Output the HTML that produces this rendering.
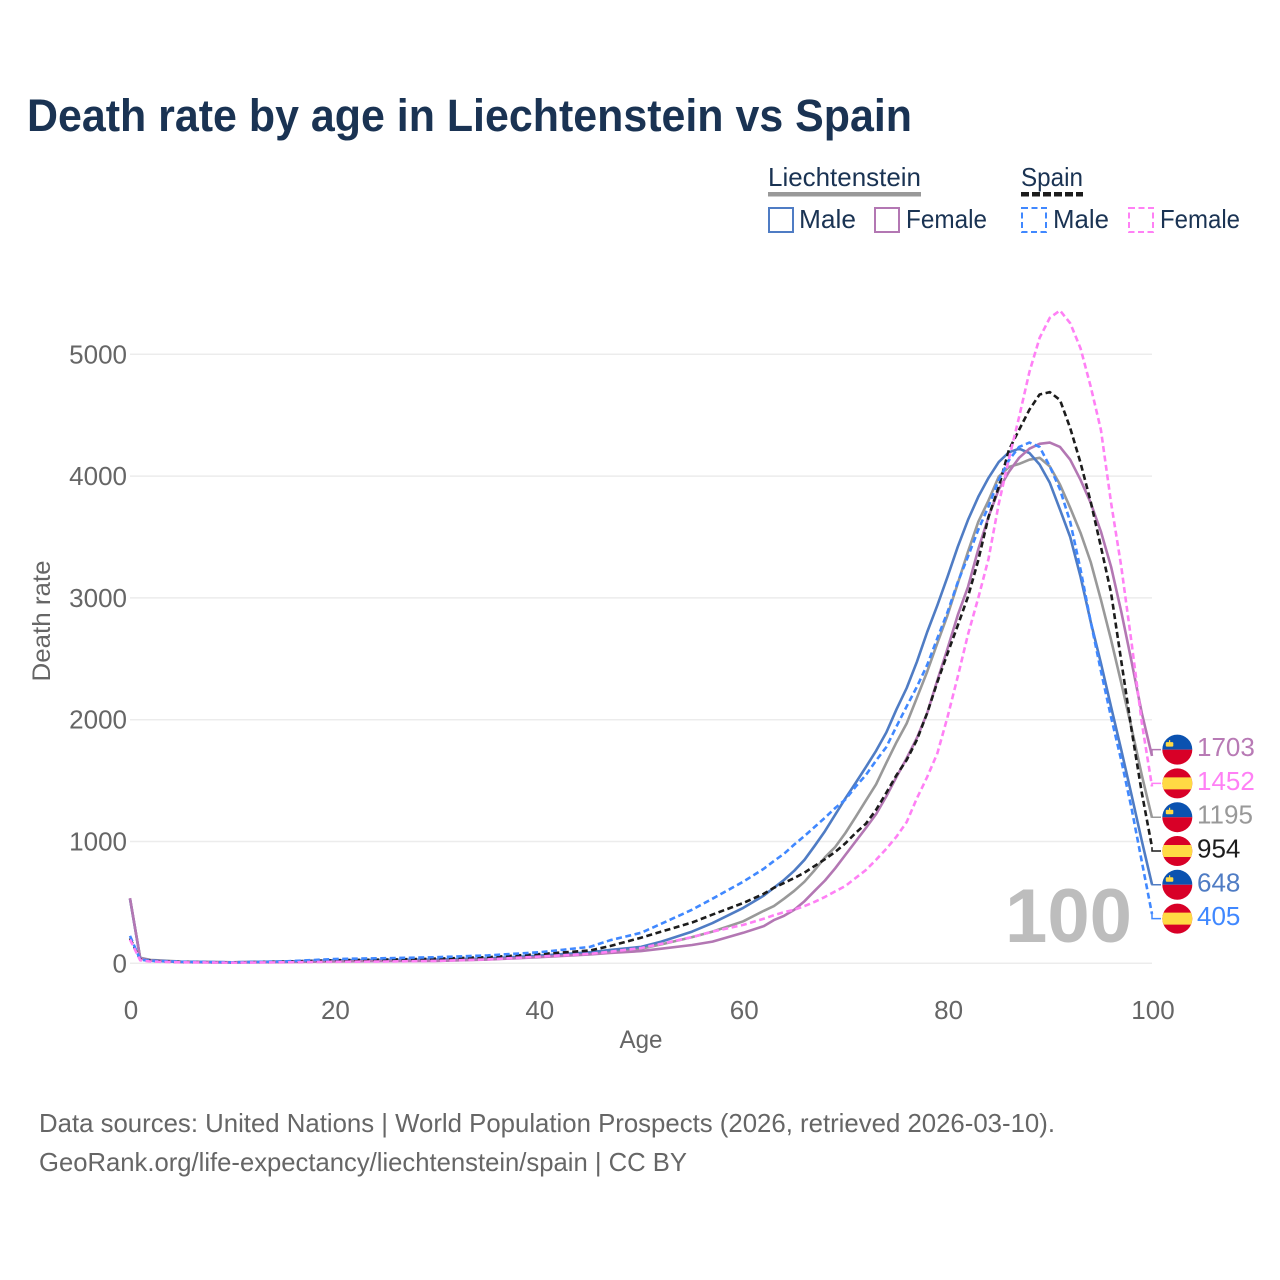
<!DOCTYPE html>
<html lang="en">
<head>
<meta charset="utf-8">
<title>Death rate by age in Liechtenstein vs Spain</title>
<style>
html,body{margin:0;padding:0;background:#fff;}
svg{display:block;font-family:"Liberation Sans",sans-serif;}
</style>
</head>
<body>
<svg id="chart" xmlns="http://www.w3.org/2000/svg" width="1280" height="1280" viewBox="0 0 1280 1280">
  <rect x="0" y="0" width="1280" height="1280" fill="#ffffff"/>
  <text x="27" y="131" font-size="45" font-weight="700" fill="#1a3353" textLength="885" lengthAdjust="spacingAndGlyphs">Death rate by age in Liechtenstein vs Spain</text>

  <g font-size="26" fill="#1a3353">
    <text x="768" y="186" textLength="153" lengthAdjust="spacingAndGlyphs">Liechtenstein</text>
    <rect x="768" y="192" width="153" height="4.5" fill="#999999"/>
    <text x="1021" y="186" textLength="62" lengthAdjust="spacingAndGlyphs">Spain</text>
    <line x1="1021" y1="194.2" x2="1083" y2="194.2" stroke="#1c1c1c" stroke-width="4.5" stroke-dasharray="8 3"/>
    <rect x="769" y="208" width="24" height="24" fill="none" stroke="#4f7cc4" stroke-width="2"/>
    <text x="799" y="228" textLength="57" lengthAdjust="spacingAndGlyphs">Male</text>
    <rect x="875" y="208" width="24" height="24" fill="none" stroke="#b377b3" stroke-width="2"/>
    <text x="906" y="228" textLength="81" lengthAdjust="spacingAndGlyphs">Female</text>
    <rect x="1022" y="208" width="24" height="24" fill="none" stroke="#4088ff" stroke-width="2" stroke-dasharray="6 3.5"/>
    <text x="1053" y="228" textLength="56" lengthAdjust="spacingAndGlyphs">Male</text>
    <rect x="1129" y="208" width="24" height="24" fill="none" stroke="#ff80f5" stroke-width="2" stroke-dasharray="6 3.5"/>
    <text x="1160" y="228" textLength="80" lengthAdjust="spacingAndGlyphs">Female</text>
  </g>

  <g id="grid"></g>
  <g id="yticks"></g>
  <g id="xticks"></g>

  <text transform="translate(50 621) rotate(-90)" text-anchor="middle" font-size="25" fill="#666666" textLength="121" lengthAdjust="spacingAndGlyphs">Death rate</text>
  <text x="641" y="1048" text-anchor="middle" font-size="25" fill="#666666" textLength="43" lengthAdjust="spacingAndGlyphs">Age</text>
  <text x="1005" y="942" font-size="76" font-weight="700" fill="#bdbdbd" textLength="127" lengthAdjust="spacingAndGlyphs">100</text>

  <g id="series"></g>
  <g id="labels"></g>

  <text x="39" y="1132" font-size="26" fill="#666666" textLength="1016" lengthAdjust="spacingAndGlyphs">Data sources: United Nations | World Population Prospects (2026, retrieved 2026-03-10).</text>
  <text x="39" y="1171" font-size="26" fill="#666666" textLength="648" lengthAdjust="spacingAndGlyphs">GeoRank.org/life-expectancy/liechtenstein/spain | CC BY</text>
</svg>
<script>
const ages = [0,1,2,5,10,15,20,25,30,35,40,45,47,50,52,55,57,60,
  62,63,64,65,66,67,68,69,70,71,72,73,74,75,76,77,78,79,80,81,82,83,84,85,86,87,88,89,90,91,92,93,94,95,96,97,98,99,100];
const liechtensteinMale = [530,40,25,12,8,15,25,28,30,40,62,90,110,135,178,260,330,455,
  555,620,685,760,850,965,1085,1220,1355,1480,1610,1745,1895,2085,2260,2475,2720,2940,3175,3420,3640,3830,3985,4115,4195,4225,4190,4095,3945,3725,3500,3175,2805,2465,2105,1750,1380,1005,648];
const liechtensteinFemale = [535,40,22,10,6,10,15,18,20,30,50,72,85,100,120,150,178,250,
  305,355,390,440,510,595,680,780,890,1000,1110,1225,1370,1530,1685,1850,2055,2325,2585,2860,3090,3400,3665,3890,4035,4150,4225,4265,4275,4240,4135,3970,3780,3545,3255,2885,2475,2055,1703];
const liechtensteinTotal = [530,45,28,14,8,15,22,25,28,38,60,88,100,120,155,215,260,345,
  430,470,530,595,670,765,870,955,1070,1200,1335,1470,1645,1815,1970,2180,2395,2630,2860,3120,3380,3625,3800,3995,4075,4100,4135,4150,4080,3930,3740,3535,3295,2985,2655,2300,1930,1545,1195];
const spainTotal = [205,30,20,10,7,12,25,30,38,50,75,105,142,210,260,335,400,495,
  570,620,660,700,745,800,855,915,985,1070,1145,1260,1400,1545,1670,1835,2055,2310,2545,2775,3010,3310,3665,3910,4215,4380,4545,4670,4690,4625,4395,4110,3790,3420,3040,2480,1915,1400,954];
const spainMale = [225,30,20,12,8,15,35,42,50,65,90,135,190,250,325,440,530,670,
  775,840,900,975,1045,1120,1195,1275,1345,1450,1545,1665,1775,1945,2110,2270,2450,2670,2885,3130,3340,3560,3750,3970,4130,4240,4275,4240,4080,3890,3625,3235,2805,2400,2020,1665,1270,835,405];
const spainFemale = [195,25,15,8,5,8,12,15,20,32,55,78,95,125,160,215,260,315,
  365,395,420,440,470,505,545,590,635,700,765,850,940,1040,1160,1355,1530,1725,2025,2355,2700,3000,3320,3770,4140,4485,4855,5135,5300,5360,5255,5050,4735,4380,3780,3255,2630,1975,1452];
const yTickValues = [0,1000,2000,3000,4000,5000];
const xTickValues = [0,20,40,60,80,100];
const seriesNames = ['liechtenstein-total','liechtenstein-male','liechtenstein-female','spain-total','spain-male','spain-female'];
const seriesValues = [liechtensteinTotal,liechtensteinMale,liechtensteinFemale,spainTotal,spainMale,spainFemale];

const NS = 'http://www.w3.org/2000/svg';
const seriesColors = ['#999999','#4f7cc4','#b377b3','#1c1c1c','#4088ff','#ff80f5'];
const seriesCountry = ['li','li','li','es','es','es'];
const labelColors = ['#999999','#4f7cc4','#b87ab5','#1c1c1c','#4088ff','#ff80f5'];

function xScale(age){ return 130 + age * 10.22; }
function yScale(v){ return 963.3 - v * 0.1218; }
function make(tag, attrs, parent){
  const el = document.createElementNS(NS, tag);
  for (const k in attrs) el.setAttribute(k, attrs[k]);
  parent.appendChild(el);
  return el;
}

const grid = document.getElementById('grid');
const yticks = document.getElementById('yticks');
const xticks = document.getElementById('xticks');
yTickValues.forEach(function(v){
  const line = make('line', {x1:130, x2:1152, y1:yScale(v), y2:yScale(v), stroke:'#ececec', 'stroke-width':1.5}, grid);
  
  
  const t = make('text', {x:127, y:yScale(v)+9, 'text-anchor':'end', 'font-size':26, fill:'#666666'}, yticks);
  
  
  t.textContent = v;
});
xTickValues.forEach(function(v){
  const t = make('text', {x:xScale(v)+1, y:1019, 'text-anchor':'middle', 'font-size':26, fill:'#666666'}, xticks);
  
  
  t.textContent = v;
});

const seriesGroup = document.getElementById('series');
seriesValues.forEach(function(vals, i){
  const d = vals.map(function(v, j){ return (j ? 'L' : 'M') + xScale(ages[j]).toFixed(1) + ' ' + yScale(v).toFixed(1); }).join(' ');
  const attrs = {d:d, fill:'none', stroke:seriesColors[i], 'stroke-width':2.6, 'stroke-linejoin':'round'};
  if (seriesCountry[i] === 'es') attrs['stroke-dasharray'] = '6 3.5';
  const p = make('path', attrs, seriesGroup);
  
  
});

const labelsGroup = document.getElementById('labels');
const order = seriesValues.map(function(v, i){ return i; }).sort(function(a, b){
  return seriesValues[b][seriesValues[b].length-1] - seriesValues[a][seriesValues[a].length-1];
});
order.forEach(function(idx, row){
  const vals = seriesValues[idx];
  const last = vals[vals.length-1];
  const cy = 749.6 + row * 33.8;
  const ex = xScale(ages[ages.length-1]);
  const connAttrs = {d:'M' + ex + ' ' + yScale(last).toFixed(1) + ' V' + cy + ' H1161', fill:'none', stroke:seriesColors[idx], 'stroke-width':1.5};
  const conn = make('path', connAttrs, labelsGroup);
  
  

  const flag = make('g', {}, labelsGroup);
  
  
  const cx = 1177.3, r = 15;
  if (seriesCountry[idx] === 'li') {
    make('path', {d:'M'+(cx-r)+' '+cy+' A'+r+' '+r+' 0 0 1 '+(cx+r)+' '+cy+' Z', fill:'#0b52b0'}, flag);
    make('path', {d:'M'+(cx-r)+' '+cy+' A'+r+' '+r+' 0 0 0 '+(cx+r)+' '+cy+' Z', fill:'#d80027'}, flag);
    make('rect', {x:cx-11.5, y:cy-7.5, width:7.5, height:4.5, rx:1, fill:'#ffda44'}, flag);
    make('rect', {x:cx-8.3, y:cy-9.5, width:1.2, height:2.5, fill:'#ffda44'}, flag);
  } else {
    make('circle', {cx:cx, cy:cy, r:r, fill:'#d80027'}, flag);
    make('path', {d:'M'+(cx-13.7)+' '+(cy-6)+' H'+(cx+13.7)+' A15 15 0 0 1 '+(cx+13.7)+' '+(cy+6)+' H'+(cx-13.7)+' A15 15 0 0 1 '+(cx-13.7)+' '+(cy-6)+' Z', fill:'#ffda44'}, flag);
  }

  const t = make('text', {x:1197, y:cy+6.5, 'font-size':26, fill:labelColors[idx]}, labelsGroup);
  
  
  t.textContent = last;
});
</script>
</body>
</html>
